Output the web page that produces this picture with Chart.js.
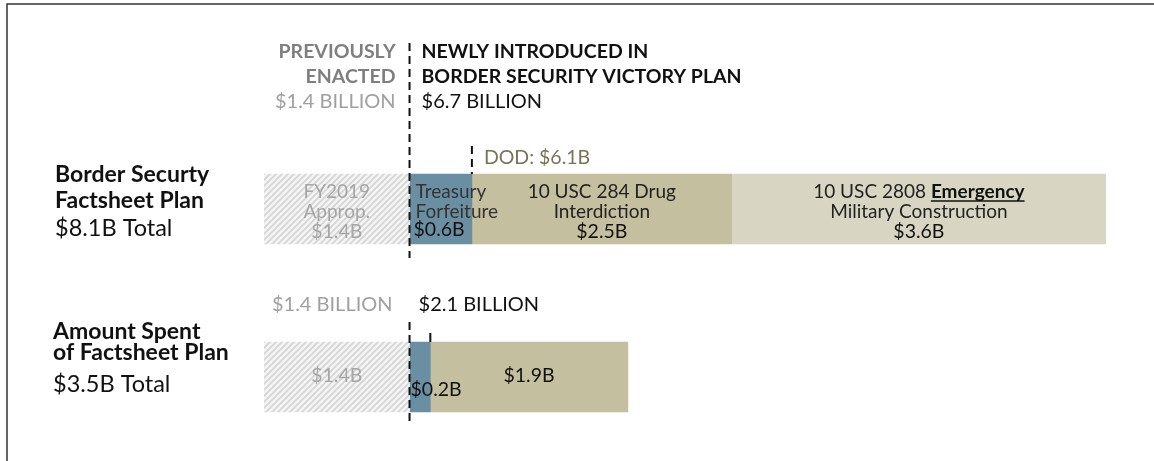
<!DOCTYPE html>
<html>
<head>
<meta charset="utf-8">
<script src="https://cdn.jsdelivr.net/npm/chart.js"></script>
<style>
  html, body { margin: 0; padding: 0; background: #fff; }
  #wrap { width: 1154px; height: 461px; position: relative; }
</style>
</head>
<body>
<div id="wrap"><canvas id="chart"></canvas></div>
<script>
// rows of the chart (category axis)
const rows = ['Border Securty Factsheet Plan', 'Amount Spent of Factsheet Plan'];
const rowTitles = [['Border Securty', 'Factsheet Plan'], ['Amount Spent', 'of Factsheet Plan']];
const rowTotals = ['$8.1B Total', '$3.5B Total'];

// segments, in billions
const previouslyEnacted = [1.4, 1.4];
const treasuryForfeiture = [0.6, 0.2];
const drugInterdiction = [2.5, 1.9];
const emergencyMilcon = [3.6, 0];

// header labels
const enactedLabels = ['$1.4 BILLION', '$1.4 BILLION'];
const newLabels = ['$6.7 BILLION', '$2.1 BILLION'];
const dodTotal = 6.1;

const FONT = 'Lato, "Open Sans", sans-serif';

// grey hatch for the previously enacted part
function makeHatch() {
  const c = document.createElement('canvas');
  c.width = 6; c.height = 6;
  const g = c.getContext('2d');
  g.fillStyle = '#f4f4f4';
  g.fillRect(0, 0, 6, 6);
  g.strokeStyle = '#d4d4d4';
  g.lineWidth = 1.6;
  g.beginPath();
  g.moveTo(-1, 7); g.lineTo(7, -1);
  g.moveTo(-1, 1); g.lineTo(1, -1);
  g.moveTo(5, 7); g.lineTo(7, 5);
  g.stroke();
  return g.createPattern(c, 'repeat');
}

function txt(ctx, s, x, y, font, color, align) {
  ctx.font = font;
  ctx.fillStyle = color;
  ctx.textAlign = align || 'left';
  ctx.textBaseline = 'middle';
  ctx.fillText(s, x, y);
}

function dashed(ctx, x, y1, y2, dash) {
  ctx.save();
  ctx.strokeStyle = '#111';
  ctx.lineWidth = 2;
  ctx.setLineDash(dash || [8, 5]);
  ctx.beginPath();
  ctx.moveTo(x, y1);
  ctx.lineTo(x, y2);
  ctx.stroke();
  ctx.restore();
}

const annotations = {
  id: 'annotations',
  afterDraw(chart) {
    const ctx = chart.ctx;
    const x = chart.scales.x;
    const y = chart.scales.y;
    ctx.save();

    // frame
    ctx.strokeStyle = '#333';
    ctx.lineWidth = 1.5;
    ctx.beginPath();
    ctx.moveTo(7, 461); ctx.lineTo(7, 4); ctx.lineTo(1154, 4);
    ctx.stroke();

    const bold = s => 'bold ' + s + 'px ' + FONT;
    const reg = s => s + 'px ' + FONT;

    // ---- row 0 ----
    let yc = y.getPixelForValue(0);
    let top = yc - 35, bottom = yc + 35;
    let xPrev = x.getPixelForValue(previouslyEnacted[0]);
    let xDod = x.getPixelForValue(previouslyEnacted[0] + treasuryForfeiture[0]);

    txt(ctx, rowTitles[0][0], 55, yc - 34, bold(23), '#111');
    txt(ctx, rowTitles[0][1], 55, yc - 8, bold(23), '#111');
    txt(ctx, rowTotals[0], 55, yc + 19, reg(23.5), '#111');

    txt(ctx, 'PREVIOUSLY', xPrev - 14, top - 122, bold(19.5), '#7f7f7f', 'right');
    txt(ctx, 'ENACTED', xPrev - 14, top - 97, bold(19.5), '#7f7f7f', 'right');
    txt(ctx, enactedLabels[0], xPrev - 14, top - 72, reg(20), '#a0a0a0', 'right');
    txt(ctx, 'NEWLY INTRODUCED IN', xPrev + 12, top - 122, bold(19.5), '#111');
    txt(ctx, 'BORDER SECURITY VICTORY PLAN', xPrev + 12, top - 97, bold(19.5), '#111');
    txt(ctx, newLabels[0], xPrev + 12, top - 72, reg(20), '#111');

    dashed(ctx, xPrev, top - 131, bottom + 14);
    dashed(ctx, xDod, top - 28, top);
    txt(ctx, 'DOD: $' + dodTotal.toFixed(1) + 'B', xDod + 12, top - 16, reg(19.5), '#777358');

    // in-bar labels, row 0
    let cPrev = x.getPixelForValue(previouslyEnacted[0] / 2);
    txt(ctx, 'FY2019', cPrev, yc - 17, reg(19), '#a6a6a6', 'center');
    txt(ctx, 'Approp.', cPrev, yc + 3, reg(19), '#a6a6a6', 'center');
    txt(ctx, '$' + previouslyEnacted[0].toFixed(1) + 'B', cPrev, yc + 23, reg(19.5), '#a6a6a6', 'center');

    txt(ctx, 'Treasury', xPrev + 6, yc - 17, reg(19), '#333', 'left');
    txt(ctx, 'Forfeiture', xPrev + 6, yc + 3, reg(19), '#333', 'left');
    txt(ctx, '$' + treasuryForfeiture[0].toFixed(1) + 'B', xPrev + 4, yc + 21, reg(19.5), '#111', 'left');

    let cDrug = x.getPixelForValue(previouslyEnacted[0] + treasuryForfeiture[0] + drugInterdiction[0] / 2);
    txt(ctx, '10 USC 284 Drug', cDrug, yc - 17, reg(19), '#222', 'center');
    txt(ctx, 'Interdiction', cDrug, yc + 3, reg(19), '#222', 'center');
    txt(ctx, '$' + drugInterdiction[0].toFixed(1) + 'B', cDrug, yc + 23, reg(19.5), '#111', 'center');

    let cEm = x.getPixelForValue(previouslyEnacted[0] + treasuryForfeiture[0] + drugInterdiction[0] + emergencyMilcon[0] / 2);
    ctx.font = reg(19);
    const a = '10 USC 2808 ';
    const wa = ctx.measureText(a).width;
    ctx.font = bold(19);
    const wb = ctx.measureText('Emergency').width;
    const startX = cEm - (wa + wb) / 2;
    txt(ctx, a, startX, yc - 17, reg(19), '#222', 'left');
    txt(ctx, 'Emergency', startX + wa, yc - 17, bold(19), '#111', 'left');
    ctx.strokeStyle = '#111';
    ctx.lineWidth = 1.4;
    ctx.beginPath();
    ctx.moveTo(startX + wa, yc - 8);
    ctx.lineTo(startX + wa + wb, yc - 8);
    ctx.stroke();
    txt(ctx, 'Military Construction', cEm, yc + 3, reg(19), '#222', 'center');
    txt(ctx, '$' + emergencyMilcon[0].toFixed(1) + 'B', cEm, yc + 23, reg(19.5), '#111', 'center');

    // ---- row 1 ----
    yc = y.getPixelForValue(1);
    top = yc - 35; bottom = yc + 35;
    xPrev = x.getPixelForValue(previouslyEnacted[1]);
    const xTr = x.getPixelForValue(previouslyEnacted[1] + treasuryForfeiture[1]);

    txt(ctx, rowTitles[1][0], 53, yc - 45, bold(23), '#111');
    txt(ctx, rowTitles[1][1], 53, yc - 24, bold(23), '#111');
    txt(ctx, rowTotals[1], 53, yc + 7, reg(23.5), '#111');

    txt(ctx, enactedLabels[1], xPrev - 17, top - 37, reg(20), '#a0a0a0', 'right');
    txt(ctx, newLabels[1], xPrev + 9, top - 37, reg(20), '#111', 'left');

    dashed(ctx, xPrev, top - 20, bottom + 10);
    dashed(ctx, xTr, top - 9, top, [9, 0]);

    cPrev = x.getPixelForValue(previouslyEnacted[1] / 2);
    txt(ctx, '$' + previouslyEnacted[1].toFixed(1) + 'B', cPrev, yc - 1, reg(19.5), '#a6a6a6', 'center');
    txt(ctx, '$' + treasuryForfeiture[1].toFixed(1) + 'B', xPrev + 1, yc + 13, reg(19.5), '#111', 'left');
    cDrug = x.getPixelForValue(previouslyEnacted[1] + treasuryForfeiture[1] + drugInterdiction[1] / 2);
    txt(ctx, '$' + drugInterdiction[1].toFixed(1) + 'B', cDrug, yc - 1, reg(19.5), '#111', 'center');

    ctx.restore();
  }
};

const ctx = document.getElementById('chart').getContext('2d');
new Chart(ctx, {
  type: 'bar',
  data: {
    labels: rows,
    datasets: [
      { label: 'Previously enacted', data: previouslyEnacted, backgroundColor: makeHatch() },
      { label: 'Treasury Forfeiture', data: treasuryForfeiture, backgroundColor: '#6a8fa2' },
      { label: '10 USC 284 Drug Interdiction', data: drugInterdiction, backgroundColor: '#c4bf9f' },
      { label: '10 USC 2808 Emergency Military Construction', data: emergencyMilcon, backgroundColor: '#d8d6c2' }
    ]
  },
  options: {
    indexAxis: 'y',
    responsive: true,
    maintainAspectRatio: false,
    animation: false,
    layout: { padding: { left: 264, right: 48, top: 125, bottom: 0 } },
    datasets: { bar: { barThickness: 70, borderWidth: 0 } },
    scales: {
      x: { stacked: true, min: 0, max: 8.1, display: false },
      y: { stacked: true, display: false }
    },
    plugins: {
      legend: { display: false },
      tooltip: { enabled: false }
    }
  },
  plugins: [annotations]
});
</script>
</body>
</html>
